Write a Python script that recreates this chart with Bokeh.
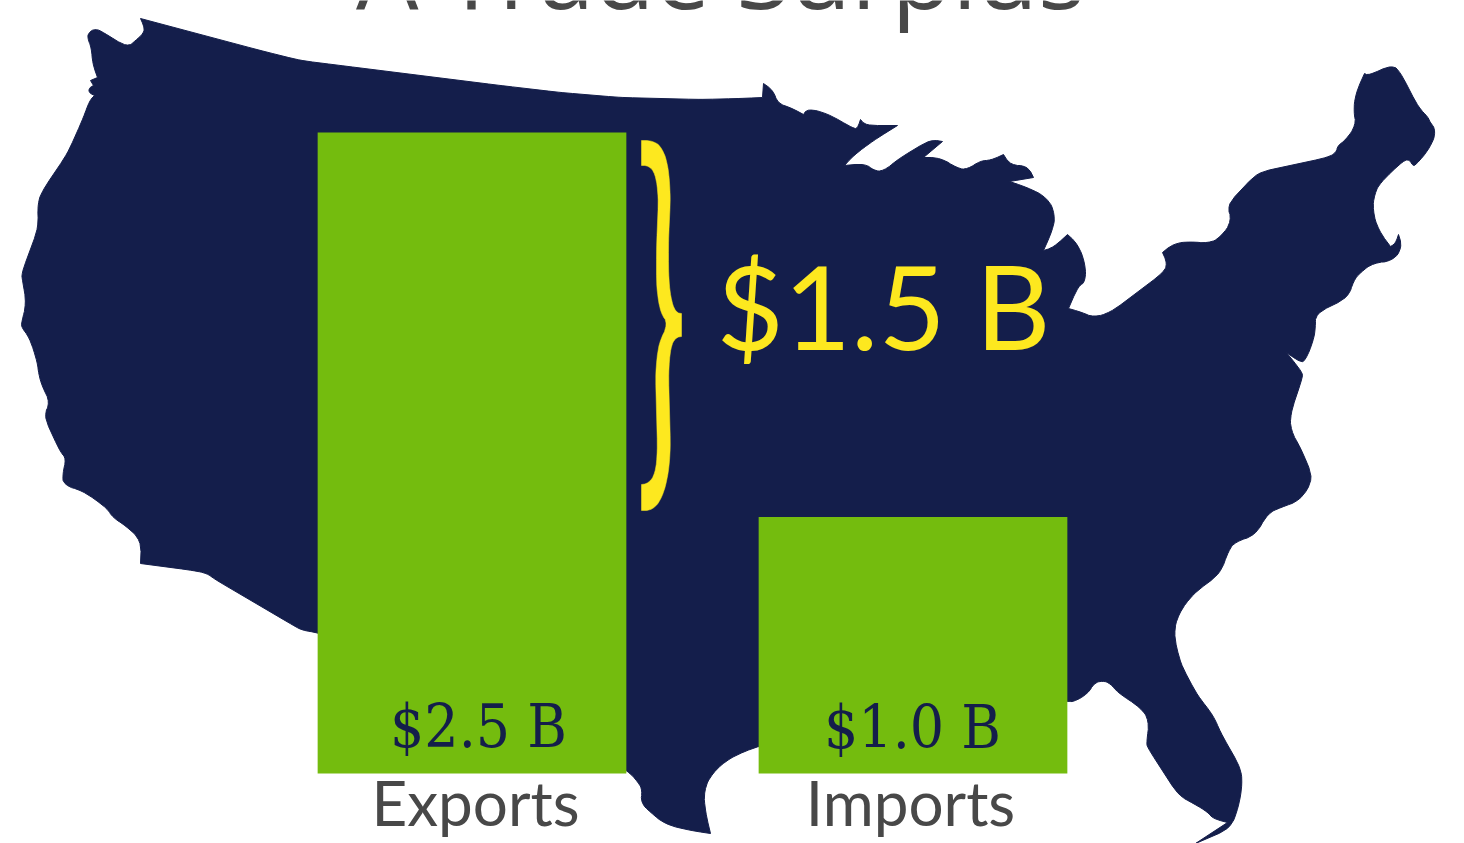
import math
from bokeh.plotting import figure
from bokeh.models import Range1d
from bokeh.core.properties import value
from bokeh.embed import file_html
from bokeh.resources import INLINE

# ---- data ----
categories = ["Exports", "Imports"]
trade_values = [2.5, 1.0]
surplus = [1.5]
title_text = ["A Trade Surplus"]

# outline of the contiguous US (picture pixels)
map_x = [140,260,300,340,500,560,620,700,740,762,763,773,777,790,803,807,827,853,857,860,865,897,873,853,844,865,873,883,897,930,942,923,940,957,967,980,990,1003,1010,1027,1033,1009,1027,1047,1055,1052,1043,1053,1067,1077,1085,1085,1078,1068,1082,1093,1110,1163,1167,1162,1173,1190,1208,1220,1232,1226,1257,1327,1336,1337,1345,1356,1353,1355,1364,1368,1392,1400,1418,1428,1429,1436,1430,1415,1412,1409,1403,1380,1374,1372,1378,1390,1395,1398,1402,1392,1373,1360,1353,1348,1315,1315,1313,1305,1300,1286,1302,1302,1290,1290,1300,1313,1300,1280,1267,1255,1235,1228,1220,1193,1178,1173,1180,1197,1213,1220,1240,1242,1238,1230,1195,1227,1212,1208,1193,1178,1147,1146,1149,1140,1117,1110,1102,1093,1088,1072,1068,1000,759,730,712,703,705,710,690,665,650,640,642,638,627,500,317,302,293,213,207,193,140,141,125,112,107,82,63,62,66,60,43,50,42,38,37,29,21,21,26,22,21,38,37,42,67,83,89,94,88,89,93,90,97,92,91,87,88,95,103,127,135,143,144]
map_y = [18,50,60,65,85,92,97,99,98,97,83,90,103,107,114,108,113,128,128,119,125,125,140,155,165,163,170,171,159,139,141,157,157,168,169,160,160,154,165,165,177,181,187,197,214,230,250,247,234,243,263,282,285,308,312,317,312,272,263,252,243,241,243,237,220,205,172,157,152,145,140,124,112,93,73,75,64,72,107,117,121,130,147,165,165,159,160,182,193,210,230,246,243,234,247,261,262,272,280,297,313,327,340,360,362,352,372,377,413,430,447,478,500,507,513,535,541,550,573,593,613,633,663,695,715,732,767,783,807,828,843,822,818,812,803,795,747,742,720,707,692,683,680,683,693,702,700,720,745,757,772,790,812,833,830,824,812,802,790,782,770,700,632,630,625,578,573,570,563,540,525,517,508,490,485,473,458,452,415,402,387,373,362,337,327,322,303,280,273,227,203,190,153,117,100,95,92,87,85,80,77,63,47,38,32,28,32,47,40,33,27]

# curly brace between the two bar tops
brace_x = [641,652,662,668,670,668,668,670,675,681,681,675,670,668,670,668,662,652,641,641,648,655,657,655,658,668,660,656,656,658,655,648,641]
brace_y = [140,140,147,167,197,240,273,297,312,313,336,337,347,373,447,473,497,510,510,484,483,473,450,373,343,323,313,287,247,197,173,165,165]

NAVY, GREEN, YELLOW, GREY = "#141E4B", "#74BC0E", "#FDE81F", "#484848"

# the figure fills the photographed window
L, T, W, H = 0, 0, 1464, 843
P0 = 773.0          # picture y of value 0
PPU = 256.4         # pixels per billion
XC = 471.5          # picture x of first bar
XS = 441.0          # pixels between bars


def round_corners(xs, ys, passes=2, sharp_deg=75):
    """Soften the polygon's shallow corners for drawing; sharp tips stay."""
    pts = list(zip(xs, ys))
    for _ in range(passes):
        out = []
        n = len(pts)
        for i in range(n):
            a, b, c = pts[i - 1], pts[i], pts[(i + 1) % n]
            u = (b[0] - a[0], b[1] - a[1])
            v = (c[0] - b[0], c[1] - b[1])
            lu, lv = math.hypot(*u) or 1, math.hypot(*v) or 1
            turn = math.degrees(math.acos(max(-1, min(1, (u[0] * v[0] + u[1] * v[1]) / (lu * lv)))))
            if turn > sharp_deg:
                out.append(b)
            else:
                d1 = min(0.3, 6 / lu)
                d2 = min(0.3, 6 / lv)
                out.append((b[0] - u[0] * d1, b[1] - u[1] * d1))
                out.append((b[0] + v[0] * d2, b[1] + v[1] * d2))
        pts = out
    return [q[0] for q in pts], [q[1] for q in pts]


p = figure(width=W, height=H, output_backend="svg", toolbar_location=None,
           x_range=Range1d((L - XC) / XS, (L + W - XC) / XS),
           y_range=Range1d((P0 - (T + H)) / PPU, (P0 - T) / PPU),
           min_border=0, outline_line_color=None, background_fill_color="white", border_fill_color="white")
p.xaxis.visible = False
p.yaxis.visible = False
p.xgrid.visible = False
p.ygrid.visible = False
p.extra_x_ranges = {"px": Range1d(L, L + W)}
p.extra_y_ranges = {"px": Range1d(T + H, T)}

mx, my = round_corners(map_x, map_y)
p.patch(mx, my, x_range_name="px", y_range_name="px", fill_color=NAVY, line_color=NAVY, line_width=1, line_join="round")

xs = list(range(len(categories)))
p.vbar(x=xs, top=trade_values, bottom=0, width=0.7, fill_color=GREEN, line_color=None)

bx, by = round_corners(brace_x, brace_y)
p.patch(bx, by, x_range_name="px", y_range_name="px", fill_color=YELLOW, line_color=YELLOW, line_width=0.5)

p.text(x=[478, 912], y=[725, 726], x_range_name="px", y_range_name="px", text=[f"${v:.1f} B" for v in trade_values],
       text_font=value("DejaVu Serif Condensed"), text_font_size="60px", text_color=NAVY,
       text_align="center", text_baseline="alphabetic")
p.text(x=[475, 910], y=[801, 801], x_range_name="px", y_range_name="px", text=categories,
       text_font=value("Lato"), text_font_size="62px", text_color=GREY,
       text_align="center", text_baseline="alphabetic")
p.text(x=[883], y=[305], x_range_name="px", y_range_name="px", text=[f"${surplus[0]:.1f} B"],
       text_font=value("Lato"), text_font_size="116px", text_color=YELLOW,
       text_align="center", text_baseline="alphabetic")
p.text(x=[720], y=[-30], x_range_name="px", y_range_name="px", text=title_text,
       text_font=value("Open Sans"), text_font_size="99px", text_color=GREY,
       text_align="center", text_baseline="alphabetic")

open("out.html", "w").write(file_html(p, INLINE))
